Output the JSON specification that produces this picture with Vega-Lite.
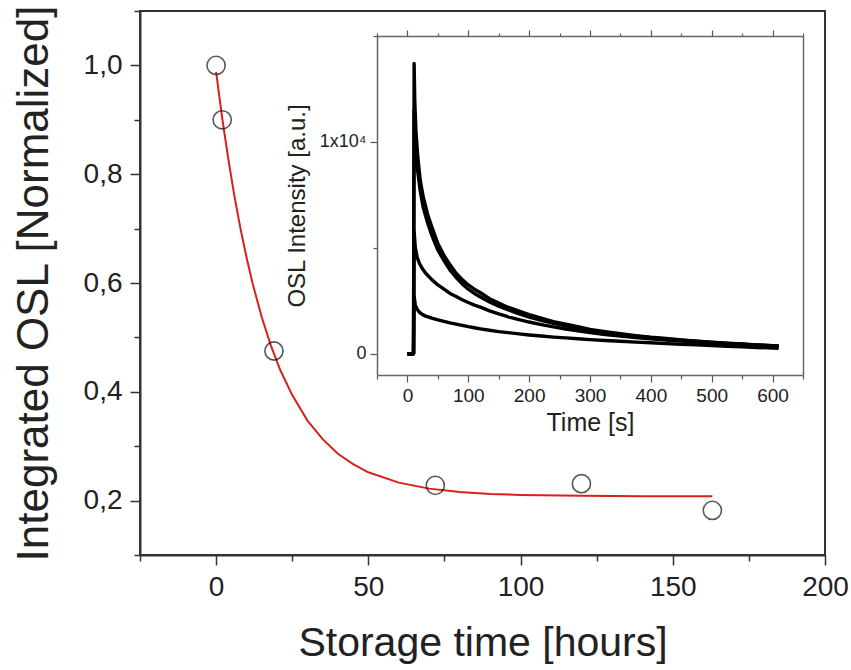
{
  "$schema": "https://vega.github.io/schema/vega-lite/v6.json",
  "width": 685,
  "height": 544,
  "autosize": "none",
  "padding": {"left": 140, "top": 11, "right": 26, "bottom": 115},
  "background": "white",
  "config": {
    "font": "Liberation Sans",
    "view": {"stroke": "#333", "strokeWidth": 2},
    "axis": {"grid": false, "domainColor": "#333", "tickColor": "#333", "labelColor": "#222", "titleColor": "#222", "labelFlush": false, "labelOverlap": false, "titleFontWeight": "normal"}
  },
  "datasets": {
    "fit": [
      {"t": 0, "osl": 0.988}, {"t": 2, "osl": 0.903}, {"t": 4, "osl": 0.828}, {"t": 6, "osl": 0.760},
      {"t": 8, "osl": 0.700}, {"t": 10, "osl": 0.647}, {"t": 12, "osl": 0.599}, {"t": 15, "osl": 0.537},
      {"t": 18, "osl": 0.485}, {"t": 21, "osl": 0.441}, {"t": 25, "osl": 0.394}, {"t": 30, "osl": 0.347},
      {"t": 35, "osl": 0.313}, {"t": 40, "osl": 0.286}, {"t": 45, "osl": 0.267}, {"t": 50, "osl": 0.252},
      {"t": 60, "osl": 0.233}, {"t": 70, "osl": 0.222}, {"t": 80, "osl": 0.216}, {"t": 90, "osl": 0.212},
      {"t": 100, "osl": 0.2105}, {"t": 120, "osl": 0.209}, {"t": 140, "osl": 0.208}, {"t": 163, "osl": 0.208}
    ],
    "pts": [
      {"t": 0, "osl": 1.0}, {"t": 2, "osl": 0.9}, {"t": 19, "osl": 0.475},
      {"t": 72, "osl": 0.228}, {"t": 120, "osl": 0.231}, {"t": 163, "osl": 0.182}
    ],
    "osl": [
      {"run": "A", "t": 0, "I": 0}, {"run": "A", "t": 10, "I": 0}, {"run": "A", "t": 11, "I": 13700}, {"run": "A", "t": 12, "I": 12000},
      {"run": "A", "t": 14, "I": 10500}, {"run": "A", "t": 17, "I": 9300}, {"run": "A", "t": 21, "I": 8200}, {"run": "A", "t": 26, "I": 7400},
      {"run": "A", "t": 33, "I": 6600}, {"run": "A", "t": 40, "I": 6000}, {"run": "A", "t": 50, "I": 5200}, {"run": "A", "t": 60, "I": 4650},
      {"run": "A", "t": 70, "I": 4200}, {"run": "A", "t": 80, "I": 3800}, {"run": "A", "t": 90, "I": 3500}, {"run": "A", "t": 100, "I": 3250},
      {"run": "A", "t": 110, "I": 3050}, {"run": "A", "t": 120, "I": 2880}, {"run": "A", "t": 135, "I": 2600}, {"run": "A", "t": 150, "I": 2400},
      {"run": "A", "t": 165, "I": 2200}, {"run": "A", "t": 180, "I": 2050}, {"run": "A", "t": 200, "I": 1850}, {"run": "A", "t": 220, "I": 1680},
      {"run": "A", "t": 240, "I": 1520}, {"run": "A", "t": 260, "I": 1400}, {"run": "A", "t": 280, "I": 1280}, {"run": "A", "t": 300, "I": 1150},
      {"run": "A", "t": 325, "I": 1050}, {"run": "A", "t": 350, "I": 950}, {"run": "A", "t": 375, "I": 860}, {"run": "A", "t": 400, "I": 780},
      {"run": "A", "t": 425, "I": 720}, {"run": "A", "t": 450, "I": 660}, {"run": "A", "t": 475, "I": 600}, {"run": "A", "t": 500, "I": 550},
      {"run": "A", "t": 525, "I": 500}, {"run": "A", "t": 550, "I": 460}, {"run": "A", "t": 575, "I": 420}, {"run": "A", "t": 600, "I": 380},
      {"run": "A", "t": 610, "I": 360},
      {"run": "B", "t": 0, "I": 0}, {"run": "B", "t": 10, "I": 0}, {"run": "B", "t": 11, "I": 11500}, {"run": "B", "t": 12, "I": 10600},
      {"run": "B", "t": 14, "I": 9600}, {"run": "B", "t": 17, "I": 8600}, {"run": "B", "t": 21, "I": 7700}, {"run": "B", "t": 26, "I": 6900},
      {"run": "B", "t": 33, "I": 6200}, {"run": "B", "t": 40, "I": 5600}, {"run": "B", "t": 50, "I": 4900}, {"run": "B", "t": 60, "I": 4400},
      {"run": "B", "t": 70, "I": 3950}, {"run": "B", "t": 80, "I": 3600}, {"run": "B", "t": 90, "I": 3300}, {"run": "B", "t": 100, "I": 3050},
      {"run": "B", "t": 110, "I": 2850}, {"run": "B", "t": 120, "I": 2680}, {"run": "B", "t": 135, "I": 2450}, {"run": "B", "t": 150, "I": 2250},
      {"run": "B", "t": 165, "I": 2080}, {"run": "B", "t": 180, "I": 1920}, {"run": "B", "t": 200, "I": 1730}, {"run": "B", "t": 220, "I": 1580},
      {"run": "B", "t": 240, "I": 1440}, {"run": "B", "t": 260, "I": 1320}, {"run": "B", "t": 280, "I": 1200}, {"run": "B", "t": 300, "I": 1100},
      {"run": "B", "t": 325, "I": 1000}, {"run": "B", "t": 350, "I": 910}, {"run": "B", "t": 375, "I": 830}, {"run": "B", "t": 400, "I": 760},
      {"run": "B", "t": 425, "I": 700}, {"run": "B", "t": 450, "I": 640}, {"run": "B", "t": 475, "I": 590}, {"run": "B", "t": 500, "I": 540},
      {"run": "B", "t": 525, "I": 495}, {"run": "B", "t": 550, "I": 450}, {"run": "B", "t": 575, "I": 410}, {"run": "B", "t": 600, "I": 370},
      {"run": "B", "t": 610, "I": 355},
      {"run": "C", "t": 0, "I": 0}, {"run": "C", "t": 10, "I": 0}, {"run": "C", "t": 11, "I": 5750}, {"run": "C", "t": 13, "I": 5000},
      {"run": "C", "t": 16, "I": 4550}, {"run": "C", "t": 20, "I": 4250}, {"run": "C", "t": 25, "I": 4000}, {"run": "C", "t": 30, "I": 3800},
      {"run": "C", "t": 40, "I": 3500}, {"run": "C", "t": 50, "I": 3250}, {"run": "C", "t": 60, "I": 3050}, {"run": "C", "t": 70, "I": 2850},
      {"run": "C", "t": 80, "I": 2700}, {"run": "C", "t": 90, "I": 2550}, {"run": "C", "t": 100, "I": 2420}, {"run": "C", "t": 110, "I": 2300},
      {"run": "C", "t": 120, "I": 2200}, {"run": "C", "t": 135, "I": 2030}, {"run": "C", "t": 150, "I": 1880}, {"run": "C", "t": 165, "I": 1750},
      {"run": "C", "t": 180, "I": 1640}, {"run": "C", "t": 200, "I": 1500}, {"run": "C", "t": 220, "I": 1380}, {"run": "C", "t": 240, "I": 1270},
      {"run": "C", "t": 260, "I": 1170}, {"run": "C", "t": 280, "I": 1080}, {"run": "C", "t": 300, "I": 1000}, {"run": "C", "t": 325, "I": 910},
      {"run": "C", "t": 350, "I": 840}, {"run": "C", "t": 375, "I": 770}, {"run": "C", "t": 400, "I": 710}, {"run": "C", "t": 425, "I": 655},
      {"run": "C", "t": 450, "I": 605}, {"run": "C", "t": 475, "I": 560}, {"run": "C", "t": 500, "I": 520}, {"run": "C", "t": 525, "I": 480},
      {"run": "C", "t": 550, "I": 445}, {"run": "C", "t": 575, "I": 410}, {"run": "C", "t": 600, "I": 380}, {"run": "C", "t": 610, "I": 370},
      {"run": "D", "t": 0, "I": 0}, {"run": "D", "t": 10, "I": 0}, {"run": "D", "t": 11, "I": 2700}, {"run": "D", "t": 13, "I": 2300},
      {"run": "D", "t": 16, "I": 2100}, {"run": "D", "t": 20, "I": 1950}, {"run": "D", "t": 25, "I": 1850}, {"run": "D", "t": 30, "I": 1780},
      {"run": "D", "t": 40, "I": 1680}, {"run": "D", "t": 50, "I": 1600}, {"run": "D", "t": 60, "I": 1530}, {"run": "D", "t": 70, "I": 1460},
      {"run": "D", "t": 80, "I": 1400}, {"run": "D", "t": 90, "I": 1340}, {"run": "D", "t": 100, "I": 1280}, {"run": "D", "t": 110, "I": 1230},
      {"run": "D", "t": 120, "I": 1180}, {"run": "D", "t": 135, "I": 1110}, {"run": "D", "t": 150, "I": 1050}, {"run": "D", "t": 165, "I": 1000},
      {"run": "D", "t": 180, "I": 950}, {"run": "D", "t": 200, "I": 890}, {"run": "D", "t": 220, "I": 840}, {"run": "D", "t": 240, "I": 790},
      {"run": "D", "t": 260, "I": 750}, {"run": "D", "t": 280, "I": 710}, {"run": "D", "t": 300, "I": 670}, {"run": "D", "t": 325, "I": 630},
      {"run": "D", "t": 350, "I": 590}, {"run": "D", "t": 375, "I": 550}, {"run": "D", "t": 400, "I": 520}, {"run": "D", "t": 425, "I": 480},
      {"run": "D", "t": 450, "I": 450}, {"run": "D", "t": 475, "I": 420}, {"run": "D", "t": 500, "I": 390}, {"run": "D", "t": 525, "I": 360},
      {"run": "D", "t": 550, "I": 330}, {"run": "D", "t": 575, "I": 300}, {"run": "D", "t": 600, "I": 270}, {"run": "D", "t": 610, "I": 260}
    ]
  },
  "layer": [
    {
      "encoding": {
        "x": {"field": "t", "type": "quantitative",
          "scale": {"domain": [-25, 200], "nice": false, "zero": false},
          "axis": {"orient": "bottom", "title": "Storage time [hours]", "values": [-25, 0, 25, 50, 75, 100, 125, 150, 175, 200],
            "labelExpr": "datum.value % 50 === 0 ? datum.label : ''", "format": "d",
            "tickSize": {"condition": {"test": "datum.value % 50 === 0", "value": 10}, "value": 6},
            "tickWidth": 1.5, "domainWidth": 2, "labelFontSize": 28, "labelPadding": 8,
            "titleFontSize": 41, "titlePadding": 22}},
        "y": {"field": "osl", "type": "quantitative",
          "scale": {"domain": [0.1, 1.1], "nice": false, "zero": false},
          "axis": {"orient": "left", "title": "Integrated OSL [Normalized]", "values": [0.1, 0.2, 0.3, 0.4, 0.5, 0.6, 0.7, 0.8, 0.9, 1.0, 1.1],
            "labelExpr": "round(datum.value * 10) % 2 === 0 ? replace(format(datum.value, '.1f'), '.', ',') : ''",
            "tickSize": {"condition": {"test": "round(datum.value * 10) % 2 === 0", "value": 10}, "value": 6},
            "tickWidth": 1.5, "domainWidth": 2, "labelFontSize": 28, "labelPadding": 8,
            "titleFontSize": 44, "titlePadding": 27}}
      },
      "layer": [
        {
          "data": {"name": "fit"},
          "mark": {"type": "line", "color": "#d8201c", "strokeWidth": 2}
        },
        {
          "data": {"name": "pts"},
          "mark": {"type": "point", "shape": "circle", "size": 330, "filled": false, "color": "#111", "strokeWidth": 1.6}
        }
      ]
    },
    {
      "data": {"name": "osl"},
      "resolve": {"axis": {"x": "independent", "y": "independent"}},
      "layer": [
        {
          "mark": {"type": "line", "color": "#000", "strokeWidth": 3.4, "strokeJoin": "round"},
          "encoding": {
            "x": {"field": "t", "type": "quantitative",
              "scale": {"domain": [-50, 650], "range": [237, 663], "nice": false, "zero": false},
              "axis": {"orient": "bottom", "offset": -180, "title": "Time [s]", "values": [-50, 0, 50, 100, 150, 200, 250, 300, 350, 400, 450, 500, 550, 600, 650],
                "labelExpr": "datum.value % 100 === 0 ? datum.label : ''", "format": "d",
                "tickSize": {"condition": {"test": "datum.value % 100 === 0", "value": 7}, "value": 4},
                "tickWidth": 1.2, "domainWidth": 1.5, "domainColor": "#666", "tickColor": "#555",
                "labelFontSize": 19, "labelPadding": 4, "titleFontSize": 25, "titlePadding": 5}},
            "y": {"field": "I", "type": "quantitative",
              "scale": {"domain": [-1000, 15000], "range": [364, 25], "nice": false, "zero": false},
              "axis": {"orient": "left", "offset": -237, "title": "OSL Intensity [a.u.]", "values": [0, 5000, 10000, 15000],
                "labelExpr": "datum.value === 0 ? '0' : datum.value === 10000 ? '1x10⁴' : ''",
                "tickSize": {"condition": {"test": "datum.value % 10000 === 0", "value": 7}, "value": 4},
                "tickWidth": 1.2, "domainWidth": 1.5, "domainColor": "#666", "tickColor": "#555",
                "labelFontSize": 18, "labelPadding": 4, "titleFontSize": 24, "titlePadding": 10}},
            "detail": {"field": "run"}
          }
        },
        {
          "mark": {"type": "point", "opacity": 0},
          "encoding": {
            "x": {"field": "t", "type": "quantitative",
              "axis": {"orient": "top", "offset": -25, "title": null, "labels": false, "values": [-50, 0, 50, 100, 150, 200, 250, 300, 350, 400, 450, 500, 550, 600, 650],
                "tickSize": {"condition": {"test": "datum.value % 100 === 0", "value": 6}, "value": 3},
                "tickWidth": 1.2, "domainWidth": 1.5, "domainColor": "#666", "tickColor": "#555"}},
            "y": {"field": "I", "type": "quantitative",
              "axis": {"orient": "right", "offset": -22, "title": null, "labels": false, "ticks": false, "domainWidth": 1.5, "domainColor": "#666"}}
          }
        }
      ]
    }
  ],
  "resolve": {"scale": {"x": "independent", "y": "independent"}}
}
